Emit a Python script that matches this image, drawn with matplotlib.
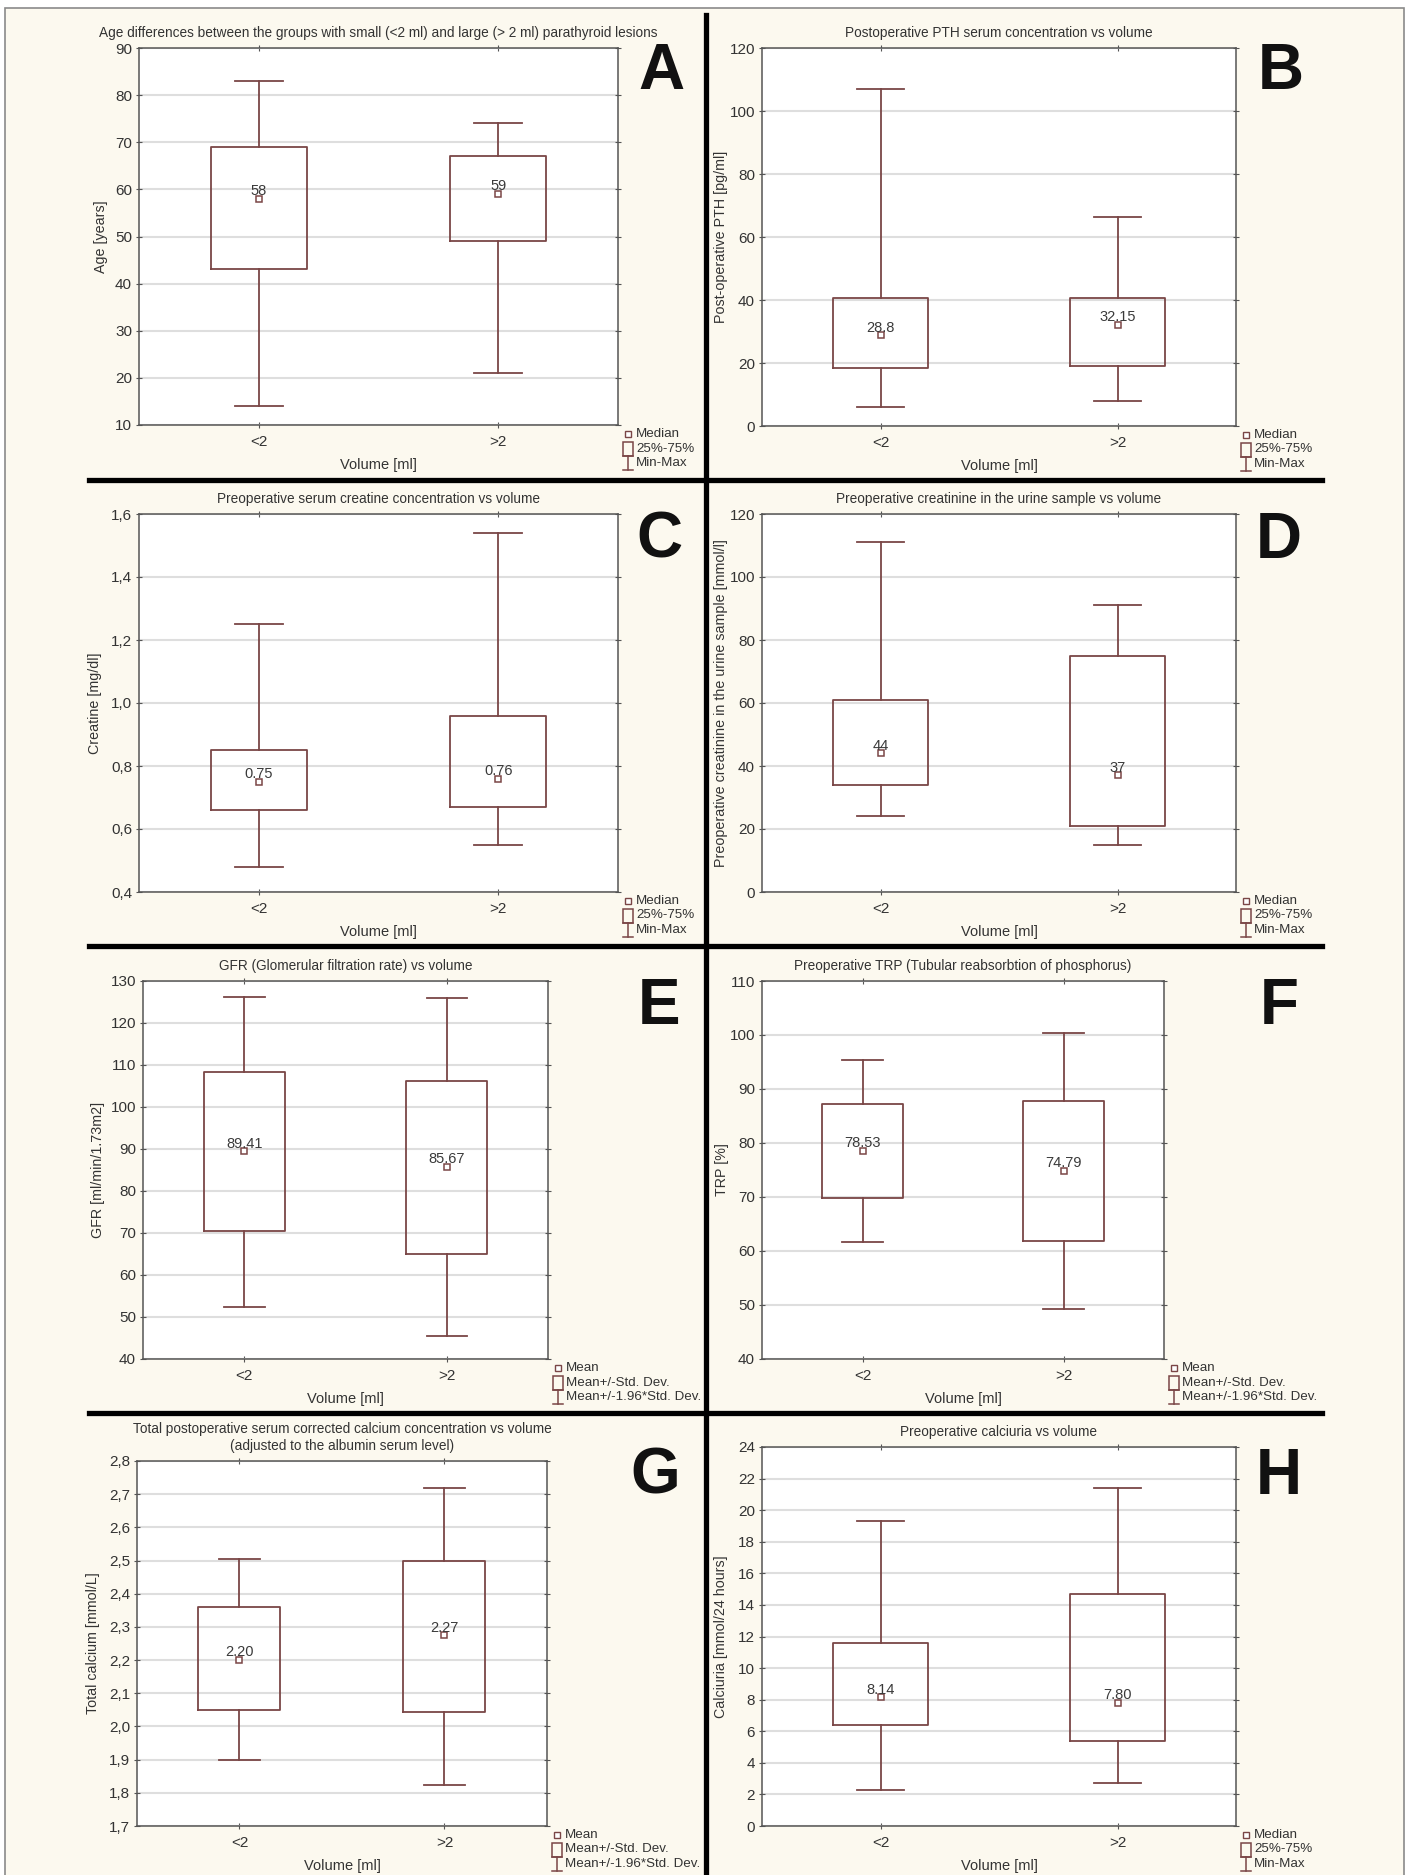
import numpy as np
import matplotlib
matplotlib.use("Agg")
import matplotlib.pyplot as plt
from matplotlib.lines import Line2D
from matplotlib.patches import Rectangle

plt.rcParams['font.family'] = ['Liberation Sans Narrow', 'Liberation Sans', 'DejaVu Sans']

W, H = 1409, 1875
groups = ["<2", ">2"]

# A - age
age_lo = [14, 21]
age_q1 = [43, 49]
age_q3 = [69, 67]
age_hi = [83, 74]
age_mid = [58, 59]
age_txt = ["58", "59"]

# B - postoperative PTH
pth_lo = [6, 8]
pth_q1 = [18.5, 19]
pth_q3 = [40.5, 40.5]
pth_hi = [107, 66.5]
pth_mid = [28.8, 32.15]
pth_txt = ["28.8", "32.15"]

# C - serum creatine
cre_lo = [0.48, 0.55]
cre_q1 = [0.66, 0.67]
cre_q3 = [0.85, 0.96]
cre_hi = [1.25, 1.54]
cre_mid = [0.75, 0.76]
cre_txt = ["0.75", "0.76"]

# D - creatinine in urine
uri_lo = [24, 15]
uri_q1 = [34, 21]
uri_q3 = [61, 75]
uri_hi = [111, 91]
uri_mid = [44, 37]
uri_txt = ["44", "37"]

# E - GFR (mean, +/-SD, +/-1.96SD)
gfr_lo = [52.5, 45.4]
gfr_q1 = [70.5, 65.1]
gfr_q3 = [108.3, 106.3]
gfr_hi = [126.3, 126.0]
gfr_mid = [89.41, 85.67]
gfr_txt = ["89.41", "85.67"]

# F - TRP
trp_lo = [61.7, 49.3]
trp_q1 = [69.9, 61.8]
trp_q3 = [87.2, 87.8]
trp_hi = [95.4, 100.3]
trp_mid = [78.53, 74.79]
trp_txt = ["78.53", "74.79"]

# G - total calcium
cal_lo = [1.90, 1.825]
cal_q1 = [2.05, 2.045]
cal_q3 = [2.36, 2.50]
cal_hi = [2.505, 2.72]
cal_mid = [2.20, 2.275]
cal_txt = ["2.20", "2.27"]

# H - calciuria
cau_lo = [2.3, 2.7]
cau_q1 = [6.4, 5.4]
cau_q3 = [11.6, 14.7]
cau_hi = [19.3, 21.4]
cau_mid = [8.14, 7.80]
cau_txt = ["8.14", "7.80"]

leg_median = ["Median", "25%-75%", "Min-Max"]
leg_mean = ["Mean", "Mean+/-Std. Dev.", "Mean+/-1.96*Std. Dev."]

BOXC = '#7a4646'
TXT = '#333333'

fig = plt.figure(figsize=(W / 100, H / 100), dpi=100, facecolor='white')


def fx(x):
    return x / W


def fy(y):
    return 1 - y / H


# background + frame
fig.patches.append(Rectangle((fx(5), fy(1880)), fx(1399), (1872) / H, transform=fig.transFigure,
                             facecolor='#fcf9ef', edgecolor='#8a8a8a', lw=1.2, zorder=-10))


def panel(box, title, ylab, lo, hi, step, comma, wlo, q1, q3, whi, mid, txt, letter, letpos, legend, ylx=37):
    l, r, t, b = box
    w, h = r - l, b - t
    ax = fig.add_axes([fx(l), fy(b), w / W, h / H])
    ax.set_facecolor('white')
    stats = []
    for g, a, c, d, e, m in zip(groups, wlo, q1, q3, whi, mid):
        stats.append(dict(label=g, whislo=a, q1=c, q3=d, whishi=e, med=m))
    lp = dict(color=BOXC, lw=1.3)
    ax.bxp(stats, positions=[0, 1], widths=0.4, capwidths=0.2, showfliers=False,
           boxprops=lp, whiskerprops=lp, capprops=lp, medianprops=dict(lw=0), zorder=3)
    ax.plot([0, 1], mid, 's', ls='none', mfc='white', mec=BOXC, ms=4.5, mew=1.1, zorder=4)
    for i, (m, s) in enumerate(zip(mid, txt)):
        ax.annotate(s, (i, m), xytext=(0, 0.5), textcoords='offset points', ha='center', va='bottom',
                    fontsize=10.5, color='#3a3a3a', zorder=5)
    ax.set_xlim(-0.5, 1.5)
    ax.set_ylim(lo, hi)
    ticks = np.arange(lo, hi + step / 2, step)
    ax.set_yticks(ticks)
    if comma:
        ax.set_yticklabels([f"{v:.1f}".replace('.', ',') for v in ticks])
    else:
        ax.set_yticklabels([f"{v:g}" for v in np.round(ticks, 3)])
    ax.set_xticks([0, 1])
    ax.set_xticklabels(groups)
    ax.set_axisbelow(True)
    ax.yaxis.grid(True, color='#dedede', lw=1.5)
    ax.tick_params(direction='inout', length=4, width=0.8, color='#555555', right=True, top=True,
                   labelsize=11, labelcolor=TXT, pad=3)
    ax.tick_params(axis='x', pad=5)
    for sp in ax.spines.values():
        sp.set_color('#555555')
        sp.set_linewidth(1.1)
    ax.set_title(title, fontsize=9.8, color=TXT, pad=8, linespacing=1.3)
    ax.set_xlabel("Volume [ml]", fontsize=10.5, color=TXT)
    ax.xaxis.set_label_coords(0.5, -33 / h)
    ax.set_ylabel(ylab, fontsize=10.3, color=TXT, va='center')
    ax.yaxis.set_label_coords(-ylx / w, 0.5)
    fig.text(fx(letpos[0]), fy(letpos[1]), letter, fontsize=46, fontweight='bold',
             family=['Liberation Sans', 'DejaVu Sans'], color='#111111', ha='center', va='center')
    # legend drawn by hand
    ix = r + 10
    rows = [b + 9, b + 23.5, b + 38]
    fig.add_artist(Line2D([fx(ix)], [fy(rows[0])], marker='s', ms=4, mfc='white', mec=BOXC, mew=1,
                          transform=fig.transFigure))
    fig.patches.append(Rectangle((fx(ix - 5), fy(rows[1] + 7)), 10 / W, 14 / H, transform=fig.transFigure,
                                 fill=False, edgecolor=BOXC, lw=1.1))
    y3 = rows[2]
    fig.add_artist(Line2D([fx(ix), fx(ix)], [fy(y3 - 7), fy(y3 + 7)], color=BOXC, lw=1.1,
                          transform=fig.transFigure))
    for yy in (y3 - 7, y3 + 7):
        fig.add_artist(Line2D([fx(ix - 5), fx(ix + 5)], [fy(yy), fy(yy)], color=BOXC, lw=1.1,
                              transform=fig.transFigure))
    for yy, s in zip(rows, legend):
        fig.text(fx(ix + 8), fy(yy), s, fontsize=9.6, color=TXT, ha='left', va='center')
    return ax


panel((139, 618, 48, 425), "Age differences between the groups with small (<2 ml) and large (> 2 ml) parathyroid lesions",
      "Age [years]", 10, 90, 10, False, age_lo, age_q1, age_q3, age_hi, age_mid, age_txt, "A", (661, 72), leg_median, 38)
panel((762, 1236, 48, 426), "Postoperative PTH serum concentration vs volume",
      "Post-operative PTH [pg/ml]", 0, 120, 20, False, pth_lo, pth_q1, pth_q3, pth_hi, pth_mid, pth_txt, "B", (1281, 72), leg_median, 41)
panel((139, 618, 514, 892), "Preoperative serum creatine concentration vs volume",
      "Creatine [mg/dl]", 0.4, 1.6, 0.2, True, cre_lo, cre_q1, cre_q3, cre_hi, cre_mid, cre_txt, "C", (659, 541), leg_median, 44)
panel((762, 1236, 514, 892), "Preoperative creatinine in the urine sample vs volume",
      "Preoperative creatinine in the urine sample [mmol/l]", 0, 120, 20, False, uri_lo, uri_q1, uri_q3, uri_hi, uri_mid, uri_txt, "D", (1279, 541), leg_median, 41)
panel((143, 548, 981, 1359), "GFR (Glomerular filtration rate) vs volume",
      "GFR [ml/min/1.73m2]", 40, 130, 10, False, gfr_lo, gfr_q1, gfr_q3, gfr_hi, gfr_mid, gfr_txt, "E", (659, 1007), leg_mean, 45)
panel((762, 1164, 981, 1359), "Preoperative TRP (Tubular reabsorbtion of phosphorus)",
      "TRP [%]", 40, 110, 10, False, trp_lo, trp_q1, trp_q3, trp_hi, trp_mid, trp_txt, "F", (1279, 1007), leg_mean, 40)
panel((137, 547, 1461, 1826), "Total postoperative serum corrected calcium concentration vs volume\n(adjusted to the albumin serum level)",
      "Total calcium [mmol/L]", 1.7, 2.8, 0.1, True, cal_lo, cal_q1, cal_q3, cal_hi, cal_mid, cal_txt, "G", (655, 1477), leg_mean, 44)
panel((762, 1236, 1447, 1826), "Preoperative calciuria vs volume",
      "Calciuria [mmol/24 hours]", 0, 24, 2, False, cau_lo, cau_q1, cau_q3, cau_hi, cau_mid, cau_txt, "H", (1279, 1477), leg_median, 41)

# black dividers between panels
fig.add_artist(Line2D([fx(706), fx(706)], [fy(15), fy(1880)], color='black', lw=3.8, transform=fig.transFigure))
for yy in (480, 946, 1413):
    fig.add_artist(Line2D([fx(89), fx(1322)], [fy(yy), fy(yy)], color='black', lw=3.8, transform=fig.transFigure))

fig.savefig("out.png", dpi=100, facecolor='white')
